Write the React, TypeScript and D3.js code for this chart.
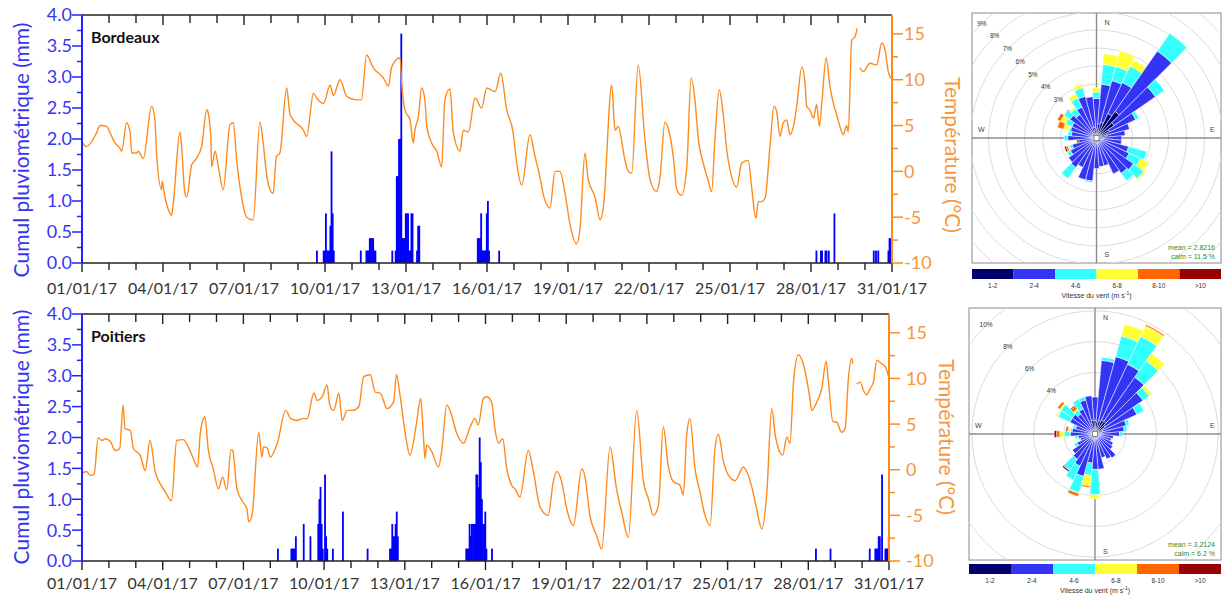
import React from 'react';
import * as d3 from 'd3';

const WIDTH = 1222;
const HEIGHT = 595;
const START = Date.UTC(2017, 0, 1);
const END = Date.UTC(2017, 0, 31);
const DAY = 86400000;
const HOUR = 3600000;

const rainTicks = [0, 0.5, 1, 1.5, 2, 2.5, 3, 3.5, 4];
const tempTicks = [-10, -5, 0, 5, 10, 15];
const speedClasses = ['1-2', '2-4', '4-6', '6-8', '8-10', '>10'];
const speedColors = ['#00006e', '#3434f4', '#33ffff', '#ffff33', '#ff6600', '#990000'];
const roseDirs = [0, 10, 20, 30, 40, 50, 60, 70, 80, 90, 100, 110, 120, 130, 140, 150, 160, 170,
  180, 190, 200, 210, 220, 230, 240, 250, 260, 270, 280, 290, 300, 310, 320, 330, 340, 350];

// Bordeaux hourly temperature: [day since 01/01, °C], null = gap
const bdxTemp = [
  [0, 3.2], [0.17, 2.7], [0.54, 4.2], [0.67, 5.0], [0.91, 4.9], [1.04, 4.2], [1.22, 3.1], [1.41, 2.5],
  [1.47, 2.2], [1.65, 5.3], [1.78, 4.3], [1.84, 2.0], [2.03, 2.0], [2.08, 2.2], [2.27, 1.4], [2.58, 7.1],
  [2.7, 5.6], [2.76, 2.0], [2.95, -2.0], [2.97, -1.1], [3.07, -2.8], [3.2, -4.2], [3.32, -4.8], [3.38, -3.5],
  [3.63, 4.3], [3.69, 2.7], [3.81, -2.4], [3.88, -2.8], [4.06, 0.7], [4.19, 1.2], [4.43, 2.7], [4.62, 6.7],
  [4.65, 6.6], [4.77, 3.8], [4.8, 0.5], [4.93, 2.2], [5.05, 0.5], [5.23, -2.0], [5.48, 5.1], [5.6, 5.3],
  [5.73, 1.2], [5.91, -2.8], [6.1, -5.0], [6.34, -5.3], [6.59, 5.4], [6.71, 3.1], [6.83, -0.2], [6.96, -2.0],
  [7.08, -2.4], [7.2, 1.6], [7.33, 2.0], [7.58, 9.1], [7.7, 6.3], [7.83, 5.6], [8.2, 4.5], [8.32, 3.8],
  [8.57, 8.5], [8.69, 8.0], [8.94, 7.4], [9.19, 9.4], [9.31, 8.3], [9.56, 10.0], [9.8, 8.2], [10.17, 7.8],
  [10.35, 7.8], [10.54, 12.7], [10.79, 11.3], [11.16, 10.2], [11.35, 9.3], [11.47, 11.4], [11.78, 12.4],
  [11.84, 9.6], [11.96, 6.7], [12.15, 5.6], [12.27, 3.1], [12.33, 4.5], [12.46, 6.0], [12.58, 9.1],
  [12.7, 7.8], [12.77, 4.9], [12.95, 3.1], [13.14, 2.2], [13.32, 0.5], [13.44, 7.8], [13.63, 9.0],
  [13.75, 4.3], [14.0, 2.2], [14.12, 4.5], [14.31, 4.3], [14.56, 8.0], [14.8, 6.9], [14.99, 9.1],
  [15.3, 8.7], [15.51, 10.7], [15.73, 6.7], [15.97, 4.2], [16.1, 0.9], [16.29, -1.5], [16.59, 4.0],
  [16.78, 1.6], [16.96, -0.6], [17.09, -2.6], [17.33, -4.0], [17.52, 0.0], [17.7, 0.0], [17.89, -2.4],
  [18.07, -5.7], [18.32, -7.9], [18.44, -6.4], [18.63, 2.0], [18.75, -0.9], [19.0, -2.8], [19.19, -5.3],
  [19.31, -3.9], [19.62, 9.4], [19.74, 4.5], [19.86, 4.9], [20.11, 1.2], [20.23, 0.0], [20.36, -0.2],
  [20.6, 11.6], [20.85, 3.4], [21.04, -0.9], [21.28, -2.2], [21.41, -0.6], [21.59, 5.4], [21.71, 4.7],
  [21.9, 1.6], [22.03, -2.0], [22.21, -2.6], [22.4, 0.5], [22.56, 10.2], [22.7, 7.8], [22.83, 3.4],
  [23.01, 0.9], [23.2, -1.1], [23.32, -2.2], [23.44, 3.4], [23.6, 8.9], [23.75, 6.2], [23.88, 2.3],
  [24.0, 0.2], [24.25, -1.7], [24.43, 0.9], [24.68, 1.2], [24.8, -1.7], [24.96, -5.1], [25.05, -3.3],
  [25.17, -3.3], [25.3, -2.9], [25.48, 2.7], [25.63, 7.1], [25.73, 6.5], [25.85, 3.8], [25.97, 5.3],
  [26.1, 5.6], [26.22, 4.0], [26.35, 4.9], [26.47, 7.1], [26.66, 11.4], [26.78, 9.6], [26.84, 7.1],
  [26.96, 6.7], [27.09, 5.8], [27.21, 7.3], [27.31, 4.9], [27.4, 7.4], [27.56, 12.4], [27.7, 9.3],
  [27.83, 7.4], [27.95, 6.2], [28.07, 4.9], [28.2, 4.0], [28.32, 5.0], [28.38, 4.3], [28.51, 14.3],
  [28.63, 14.7], [28.71, 15.6], [28.76, null], [28.81, 11.3], [28.94, 10.9], [29.19, 11.8], [29.43, 11.6],
  [29.62, 14.0], [29.74, 13.3], [29.86, 10.9], [30.0, 10.0],
];

// Poitiers hourly temperature
const ptsTemp = [
  [0, -0.4], [0.16, -0.2], [0.31, -0.6], [0.45, -0.5], [0.6, 3.5], [0.74, 3.2], [0.87, 3.4], [1.05, 3.1],
  [1.24, 2.1], [1.4, 2.3], [1.53, 7.1], [1.6, 4.5], [1.8, 4.3], [1.91, 2.3], [2.16, 1.6], [2.35, -0.1],
  [2.53, 3.2], [2.72, -0.2], [2.9, -1.5], [3.09, -2.4], [3.33, -3.4], [3.52, 3.2], [3.77, 3.3], [3.95, 2.5],
  [4.14, 1.2], [4.3, 0.3], [4.4, 4.1], [4.57, 5.8], [4.69, 2.3], [4.88, 0.1], [5.07, -2.1], [5.23, -0.8],
  [5.38, -2.2], [5.54, 2.2], [5.6, 2.1], [5.76, -2.1], [5.95, -3.4], [6.13, -4.3], [6.2, -5.7], [6.32, -5.0],
  [6.57, 4.1], [6.69, 1.4], [6.75, 2.5], [6.88, 2.4], [7.0, 1.4], [7.26, 2.9], [7.57, 6.5], [7.76, 5.6],
  [8.0, 5.4], [8.19, 5.6], [8.37, 5.6], [8.62, 8.4], [8.74, 7.6], [8.93, 8.0], [9.11, 9.3], [9.21, 7.1],
  [9.36, 6.5], [9.55, 8.4], [9.67, 5.4], [9.86, 6.5], [10.05, 6.5], [10.29, 6.9], [10.47, 10.2],
  [10.72, 10.4], [10.9, 8.5], [11.09, 8.4], [11.34, 6.7], [11.58, 7.4], [11.69, 10.4], [11.82, 8.2],
  [12.01, 4.1], [12.19, 1.6], [12.44, 5.2], [12.59, 7.8], [12.69, 3.8], [12.75, 1.2], [12.81, 2.7],
  [13.0, 2.0], [13.25, 0.3], [13.37, 2.0], [13.56, 7.1], [13.68, 6.5], [13.93, 4.0], [14.18, 2.9],
  [14.43, 4.7], [14.61, 5.6], [14.73, 4.9], [14.92, 7.8], [15.04, 8.0], [15.23, 7.4], [15.35, 4.5],
  [15.48, 2.9], [15.64, 3.4], [15.79, 0.1], [15.97, -1.7], [16.1, -2.1], [16.28, -3.0], [16.59, 2.1],
  [16.78, -0.2], [17.03, -4.1], [17.33, -5.0], [17.52, -1.3], [17.65, -0.2], [17.83, -1.3], [18.02, -4.3],
  [18.27, -6.1], [18.58, 0.1], [18.7, -0.8], [18.88, -5.0], [19.13, -7.2], [19.32, -8.7], [19.63, 2.5],
  [19.87, -2.1], [20.06, -4.6], [20.31, -7.4], [20.62, 6.5], [20.87, -1.3], [21.06, -3.2], [21.24, -5.0],
  [21.43, -3.9], [21.61, 4.7], [21.79, 0.5], [21.98, -1.3], [22.23, -1.7], [22.35, -2.8], [22.48, 3.8],
  [22.6, 5.6], [22.79, 0.1], [22.97, -2.4], [23.16, -5.0], [23.35, -6.1], [23.53, 2.3], [23.66, 3.9],
  [23.84, 1.0], [24.03, -0.6], [24.28, -1.2], [24.59, 0.3], [24.71, -0.2], [24.9, -1.9], [25.08, -4.3],
  [25.27, -6.5], [25.46, -2.4], [25.64, 6.7], [25.77, 3.8], [25.89, 2.3], [26.05, 1.6], [26.2, 3.6],
  [26.32, 2.9], [26.45, 9.6], [26.63, 12.6], [26.82, 11.5], [27.04, 8.2], [27.13, 6.5], [27.31, 7.4],
  [27.5, 8.9], [27.66, 11.9], [27.75, 9.6], [27.91, 5.3], [28.06, 5.2], [28.24, 4.1], [28.37, 4.5],
  [28.49, 10.0], [28.62, 12.2], [28.65, 11.6], [28.72, null], [28.8, 9.4], [28.93, 9.6], [29.05, 8.7],
  [29.17, 8.2], [29.3, 8.9], [29.42, 9.6], [29.55, 12.0], [29.73, 11.6], [29.86, 11.3], [30.0, 10.0],
];

// hourly rain (hour since 01/01 00:00, mm)
const bdxRainHour = [208, 214, 215, 216, 217, 218, 219, 220, 221, 222, 223, 247, 252, 253, 254, 255, 256, 257,
  258, 259, 260, 275, 278, 279, 280, 281, 282, 283, 284, 285, 286, 287, 288, 289, 290, 291, 292, 293, 297,
  298, 299, 351, 352, 353, 354, 355, 356, 357, 358, 359, 360, 361, 370, 652, 656, 657, 660, 661, 663, 668,
  703, 705, 707, 716, 717, 718];
const bdxRainMm = [0.2, 0.2, 0.2, 0.8, 0.2, 0.2, 0.2, 0.6, 1.8, 0.8, 0.2, 0.2, 0.2, 0.2, 0.2, 0.4, 0.4, 0.4,
  0.4, 0.2, 0.2, 0.2, 0.2, 1.4, 1.4, 2.0, 2.0, 3.7, 0.4, 0.4, 0.4, 0.8, 0.8, 0.8, 0.2, 0.2, 0.8, 0.8, 0.2,
  0.6, 0.6, 0.4, 0.4, 0.4, 0.8, 0.2, 0.2, 0.2, 0.2, 0.8, 1.0, 0.2, 0.2, 0.2, 0.2, 0.2, 0.2, 0.2, 0.2, 0.8,
  0.2, 0.2, 0.2, 0.2, 0.4, 0.4];
const ptsRainHour = [174, 186, 187, 188, 189, 190, 197, 203, 210, 211, 212, 213, 214, 216, 217, 218, 223, 232,
  254, 274, 275, 276, 277, 278, 279, 280, 281, 342, 343, 344, 345, 346, 347, 348, 349, 350, 351, 352, 353,
  354, 355, 356, 357, 358, 359, 360, 365, 654, 667, 702, 707, 708, 709, 710, 711, 713, 716, 717, 718, 719];
const ptsRainMm = [0.2, 0.2, 0.2, 0.2, 0.2, 0.4, 0.6, 0.4, 0.6, 1.0, 1.2, 0.6, 0.2, 1.4, 0.4, 0.2, 0.2, 0.8,
  0.2, 0.2, 0.2, 0.6, 0.4, 0.4, 0.6, 0.8, 0.4, 0.2, 0.2, 0.2, 0.6, 0.4, 0.6, 0.6, 0.6, 0.6, 1.4, 1.4, 1.2,
  2.0, 1.6, 1.0, 0.6, 0.6, 0.8, 0.2, 0.2, 0.2, 0.2, 0.2, 0.2, 0.2, 0.2, 0.4, 0.4, 1.4, 0.2, 0.2, 0.2, 0.4];

// wind rose frequencies (%) per direction, one array per speed class
const bdxRose1_2 = [0.5, 0.8, 0.9, 1.5, 1.8, 1.2, 0.8, 0.6, 0.5, 0.4, 0.4, 0.3, 0.3, 0.3, 0.3, 0.3, 0.3, 0.3,
  0.3, 0.4, 0.3, 0.3, 0.3, 0.3, 0.3, 0.2, 0.2, 0.2, 0.2, 0.2, 0.2, 0.3, 0.3, 0.4, 0.6, 0.6];
const bdxRose2_4 = [1.7, 2.2, 2.4, 1.9, 4.1, 2.8, 1.6, 1.3, 1.1, 1.0, 1.0, 1.55, 1.7, 2.2, 2.1, 1.9, 1.3, 1.3,
  1.4, 2.0, 2.1, 1.5, 1.7, 1.6, 1.3, 1.2, 0.8, 1.4, 1.2, 1.3, 1.3, 1.5, 1.3, 1.5, 1.8, 1.7];
const bdxRose4_6 = [0.35, 1.1, 0.8, 1.0, 1.2, 0.6, 0.2, 0, 0, 0, 0, 1.05, 0.7, 0.7, 0.5, 0, 0, 0,
  0, 0.1, 0, 0, 0.75, 0, 0.2, 0.15, 0, 0.2, 0.2, 0.1, 0.4, 0.4, 0.4, 0.55, 0.5, 0];
const bdxRose6_8 = [0.25, 0.6, 0.9, 0.4, 0, 0, 0, 0, 0, 0, 0, 0, 0.5, 0.1, 0, 0, 0, 0,
  0, 0, 0, 0, 0, 0, 0, 0.1, 0, 0, 0, 0.3, 0.3, 0, 0.1, 0.25, 0.2, 0];
const bdxRose8_10 = [0, 0, 0, 0, 0, 0, 0, 0, 0, 0, 0, 0, 0, 0, 0, 0, 0, 0,
  0, 0, 0, 0, 0, 0, 0, 0.1, 0, 0, 0, 0.35, 0.2, 0, 0, 0, 0, 0];
const bdxRose10 = [0, 0, 0, 0, 0, 0, 0, 0, 0, 0, 0, 0, 0, 0, 0, 0, 0, 0,
  0, 0, 0, 0, 0, 0, 0, 0.1, 0.1, 0, 0, 0, 0, 0, 0, 0, 0, 0];

const ptsRose1_2 = [0.9, 0.8, 0.9, 1.0, 1.0, 0.8, 0.6, 0.5, 0.4, 0.4, 0.3, 0.3, 0.3, 0.3, 0.3, 0.3, 0.3, 0.3,
  0.4, 0.3, 0.3, 0.3, 0.3, 0.3, 0.3, 0.2, 0.2, 0.2, 0.2, 0.2, 0.3, 0.3, 0.3, 0.5, 0.7, 0.9];
const ptsRose2_4 = [1.5, 4.0, 4.3, 4.0, 3.5, 3.0, 2.4, 1.6, 1.5, 1.2, 0.9, 0.8, 1.0, 1.1, 1.6, 1.5, 1.3, 2.0,
  1.9, 1.6, 2.55, 2.0, 1.7, 1.5, 1.0, 0.8, 0.9, 1.4, 1.3, 1.1, 1.5, 1.5, 1.3, 1.3, 1.6, 1.6];
const ptsRose4_6 = [0, 0.2, 1.4, 2.0, 1.3, 0.5, 0.5, 0.2, 0.2, 0.2, 0, 0, 0, 0, 0, 0, 0, 0,
  1.65, 0.8, 1.1, 1.0, 0.9, 0, 0.2, 0.1, 0.2, 0.4, 0.1, 0.2, 0.85, 0.9, 0.3, 0.7, 0.2, 0];
const ptsRose6_8 = [0, 0, 0.8, 0.75, 0.6, 0.2, 0, 0, 0, 0, 0, 0, 0, 0, 0, 0, 0, 0,
  0.25, 0.7, 0.05, 0, 0, 0, 0, 0.1, 0, 0.3, 0.15, 0, 0.1, 0.1, 0.1, 0, 0, 0];
const ptsRose8_10 = [0, 0, 0, 0.1, 0, 0, 0, 0, 0, 0, 0, 0, 0, 0, 0, 0, 0, 0,
  0, 0.1, 0.2, 0, 0, 0, 0, 0, 0, 0.2, 0.05, 0, 0, 0.17, 0.2, 0, 0, 0];
const ptsRose10 = [0, 0, 0, 0, 0, 0, 0, 0, 0, 0, 0, 0, 0, 0, 0, 0, 0, 0,
  0, 0, 0, 0, 0.1, 0, 0, 0, 0, 0.15, 0.1, 0, 0, 0, 0.07, 0, 0, 0];

const BLUE_TXT = '#3535f2';
const ORANGE_TXT = '#f7963c';
const ORANGE_LINE = '#ff8a1c';
const FONT = 'Lato, "Open Sans", sans-serif';

function Panel({ top, bottom, right, title, temp, rainHour, rainMm, rainLabelY, tempLabelY, tempLabelX, tickOffset, dateY }) {
  const left = 82;
  const x = d3.scaleUtc().domain([START, END]).range([left, right]);
  const yRain = d3.scaleLinear().domain([0, 4]).range([bottom, top]);
  const yTemp = d3.scaleLinear().domain([-10, 17.06]).range([bottom, top]);
  const line = d3.line()
    .defined((d) => d[1] != null)
    .x((d) => x(START + d[0] * DAY))
    .y((d) => yTemp(d[1]))
    .curve(d3.curveMonotoneX);
  const days = d3.utcDay.range(START, END + 1);
  const fmt = d3.utcFormat('%d/%m/%y');
  const rainMinor = d3.range(0, 4.01, 0.25);
  const tempMinor = d3.range(-10, 17, 2.5);

  return (
    <g fontFamily={FONT}>
      {rainHour.map((h, i) => {
        const xa = x(START + h * HOUR);
        const xb = x(START + (h + 1) * HOUR);
        return <rect key={i} x={xa} y={yRain(rainMm[i])} width={xb - xa + 0.7}
          height={bottom - yRain(rainMm[i])} fill="#0000ff" />;
      })}
      <path d={line(temp)} fill="none" stroke={ORANGE_LINE} strokeWidth={1.4} strokeLinejoin="round" />

      {/* frame top & bottom */}
      <line x1={left} x2={right} y1={top} y2={top} stroke="#222" strokeWidth={1.5} />
      <line x1={left} x2={right} y1={bottom} y2={bottom} stroke="#222" strokeWidth={1.5} />
      {days.map((d, i) => {
        const xx = x(d);
        const major = i % 3 === 0;
        return (
          <g key={i}>
            <line x1={xx} x2={xx} y1={top} y2={top + (major ? 10 : 8)} stroke="#222" strokeWidth={1.4} />
            <line x1={xx} x2={xx} y1={bottom} y2={bottom + (major ? 9 : 7)} stroke="#222" strokeWidth={1.4} />
            {major && (
              <text x={xx} y={dateY} textAnchor="middle" fontSize={16} fill="#333">{fmt(d)}</text>
            )}
          </g>
        );
      })}

      {/* rain axis */}
      <line x1={left} x2={left} y1={top} y2={bottom} stroke="#2222ff" strokeWidth={2} />
      {rainMinor.map((v) => {
        const major = Math.abs(v * 2 - Math.round(v * 2)) < 1e-6;
        return <line key={v} x1={left} x2={left - (major ? 10 : 5)} y1={yRain(v)} y2={yRain(v)}
          stroke="#2222ff" strokeWidth={1.5} />;
      })}
      {rainTicks.map((v) => (
        <text key={v} x={left - 10} y={yRain(v)} dy="0.36em" textAnchor="end" fontSize={18}
          fill={BLUE_TXT}>{d3.format('.1f')(v)}</text>
      ))}
      <text transform={`translate(22,${rainLabelY}) rotate(-90)`} textAnchor="middle" dy="0.35em"
        fontSize={21} fill={BLUE_TXT}>Cumul pluviométrique (mm)</text>

      {/* temperature axis */}
      <line x1={right} x2={right} y1={top} y2={bottom} stroke="#ff8a1c" strokeWidth={2} />
      {tempMinor.map((v) => {
        const major = v % 5 === 0;
        return <line key={v} x1={right} x2={right + (major ? 11 : 6)} y1={yTemp(v)} y2={yTemp(v)}
          stroke="#ff8a1c" strokeWidth={1.5} />;
      })}
      {tempTicks.map((v) => (
        <text key={v} x={right + tickOffset} y={yTemp(v)} dy="0.36em" textAnchor="start" fontSize={18}
          fill={ORANGE_TXT}>{v}</text>
      ))}
      <text transform={`translate(${tempLabelX},${tempLabelY}) rotate(90)`} textAnchor="middle" dy="0.35em"
        fontSize={21} fill={ORANGE_TXT}>Température (°C)</text>

      <text x={91} y={top + 28} fontSize={16} fontWeight="bold" fill="#111">{title}</text>
    </g>
  );
}

function WindRose({ x0, y0, x1, y1, k, ringStep, ringMax, classes, mean, calm, clipId, barGap }) {
  const cx = (x0 + x1) / 2;
  const cy = (y0 + y1) / 2;
  const r = d3.scaleLinear().domain([0, 1]).range([0, k]);
  const arc = d3.arc();
  const segs = [];
  roseDirs.forEach((dir, i) => {
    let cum = 0;
    classes.forEach((arr, c) => {
      const v = arr[i];
      if (v > 0) {
        segs.push({
          key: `${dir}-${c}`,
          d: arc({
            innerRadius: r(cum), outerRadius: r(cum + v),
            startAngle: ((dir - 5) * Math.PI) / 180, endAngle: ((dir + 5) * Math.PI) / 180,
          }),
          color: speedColors[c],
        });
      }
      cum += v;
    });
  });
  const rings = d3.range(ringStep, ringMax + 0.001, ringStep);
  const bx = d3.scaleBand().domain(speedClasses).range([x0, x1]);
  const rf = 'Liberation Sans, Arial, sans-serif';
  const barTop = y1 + barGap;

  return (
    <g fontFamily={rf}>
      <defs>
        <clipPath id={clipId}>
          <rect x={x0} y={y0} width={x1 - x0} height={y1 - y0} />
        </clipPath>
      </defs>
      <rect x={x0} y={y0} width={x1 - x0} height={y1 - y0} fill="#fff" stroke="#8a8a8a" strokeWidth={1} />
      <g clipPath={`url(#${clipId})`}>
        {rings.map((p) => (
          <circle key={p} cx={cx} cy={cy} r={r(p)} fill="none" stroke="#dcdcdc" strokeWidth={1} />
        ))}
        {rings.map((p) => (
          <text key={p} x={cx - r(p) * Math.SQRT1_2} y={cy - r(p) * Math.SQRT1_2} dy="0.35em"
            textAnchor="middle" fontSize={6.5} fill="#333">{`${p}%`}</text>
        ))}
        <line x1={x0} x2={x1} y1={cy} y2={cy} stroke="#8c8c8c" strokeWidth={1.4} />
        <line x1={cx} x2={cx} y1={y0} y2={y1} stroke="#8c8c8c" strokeWidth={1.4} />
        <g transform={`translate(${cx},${cy})`}>
          {segs.map((s) => (
            <path key={s.key} d={s.d} fill={s.color} stroke="#fff" strokeWidth={0.5} />
          ))}
        </g>
        <rect x={cx - 2.5} y={cy - 2.5} width={5} height={5} fill="#fff" stroke="#888" strokeWidth={1} />
      </g>
      <text x={cx + 8} y={y0 + 12} fontSize={7} fill="#444">N</text>
      <text x={cx + 8} y={y1 - 6} fontSize={7} fill="#444">S</text>
      <text x={x1 - 11} y={cy - 6} fontSize={7} fill="#444">E</text>
      <text x={x0 + 6} y={cy - 6} fontSize={7} fill="#444">W</text>
      <text x={x1 - 6} y={y1 - 13} textAnchor="end" fontSize={7} fill="#2e8b2e">{`mean =  ${mean}`}</text>
      <text x={x1 - 6} y={y1 - 4} textAnchor="end" fontSize={7} fill="#2e8b2e">{`calm =  ${calm} %`}</text>

      {speedClasses.map((c, i) => (
        <g key={c}>
          <rect x={bx(c)} y={barTop} width={bx.bandwidth()} height={10} fill={speedColors[i]} />
          <text x={bx(c) + bx.bandwidth() / 2} y={barTop + 19} textAnchor="middle" fontSize={6.5}
            fill="#333">{c}</text>
        </g>
      ))}
      <text x={cx} y={barTop + 29} textAnchor="middle" fontSize={7} fill="#333">
        Vitesse du vent (m s<tspan dy="-3" fontSize={5}>-1</tspan><tspan dy="3">)</tspan>
      </text>
    </g>
  );
}

export default function App() {
  return (
    <svg width={WIDTH} height={HEIGHT} viewBox={`0 0 ${WIDTH} ${HEIGHT}`}
      style={{ position: 'absolute', left: 0, top: 0, background: '#fff' }}>
      <rect width={WIDTH} height={HEIGHT} fill="#fff" />
      <Panel top={15} bottom={263} right={892} title="Bordeaux" temp={bdxTemp}
        rainHour={bdxRainHour} rainMm={bdxRainMm} rainLabelY={150} tempLabelY={155} tempLabelX={952}
        tickOffset={12} dateY={294} />
      <Panel top={314} bottom={561} right={889} title="Poitiers" temp={ptsTemp}
        rainHour={ptsRainHour} rainMm={ptsRainMm} rainLabelY={437} tempLabelY={437} tempLabelX={946}
        tickOffset={17} dateY={589} />
      <WindRose x0={972} y0={13} x1={1221} y1={263} k={18} ringStep={1} ringMax={9}
        classes={[bdxRose1_2, bdxRose2_4, bdxRose4_6, bdxRose6_8, bdxRose8_10, bdxRose10]}
        mean="2.8216" calm="11.5" clipId="roseBdx" barGap={6} />
      <WindRose x0={969} y0={308} x1={1221} y1={560} k={15.4} ringStep={2} ringMax={12}
        classes={[ptsRose1_2, ptsRose2_4, ptsRose4_6, ptsRose6_8, ptsRose8_10, ptsRose10]}
        mean="3.2124" calm="6.2" clipId="rosePts" barGap={4} />
    </svg>
  );
}
